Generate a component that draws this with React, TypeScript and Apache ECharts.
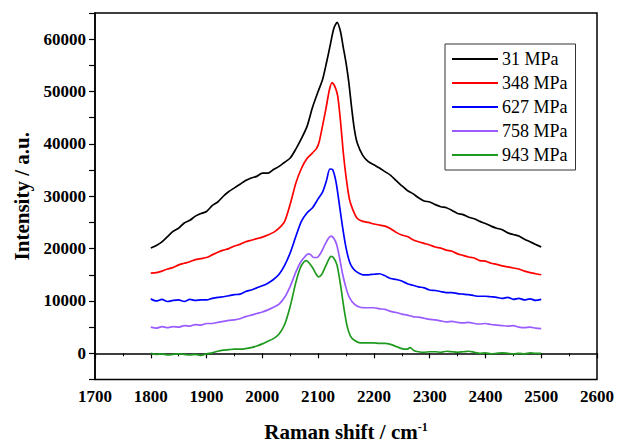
import React, { useEffect, useRef } from "react";
import * as echarts from "echarts";

const seriesNames = ["31 MPa", "348 MPa", "627 MPa", "758 MPa", "943 MPa"];
const seriesColors = ["#000000", "#ff0000", "#0000ff", "#9a5cff", "#1f9a1f"];
const xTicks = [1700, 1800, 1900, 2000, 2100, 2200, 2300, 2400, 2500, 2600];
const yTicks = [0, 10000, 20000, 30000, 40000, 50000, 60000];

const black: [number, number][] = [
  [1800, 20100], [1810, 20600], [1820, 21300], [1830, 22300], [1840, 23300], [1850, 23900],
  [1860, 24900], [1870, 25400], [1880, 26200], [1890, 26700], [1900, 27100], [1910, 28200],
  [1920, 28900], [1930, 30000], [1940, 30900], [1950, 31600], [1960, 32300], [1970, 33000],
  [1980, 33500], [1990, 33800], [2000, 34400], [2010, 34400], [2020, 35100], [2030, 35700],
  [2040, 36500], [2050, 37300], [2060, 39000], [2070, 41000], [2080, 43300], [2090, 47000],
  [2100, 50000], [2108, 52300], [2115, 55500], [2122, 59000], [2128, 62000], [2134, 63200],
  [2140, 61500], [2145, 58500], [2150, 55500], [2155, 51800], [2160, 47000], [2165, 42800],
  [2170, 40200], [2180, 37800], [2190, 36600], [2200, 36000], [2210, 35400], [2220, 34700],
  [2230, 34000], [2240, 33000], [2250, 32000], [2260, 31100], [2270, 30500], [2280, 29700],
  [2290, 29100], [2300, 28900], [2310, 28400], [2320, 28000], [2330, 27800], [2340, 27300],
  [2350, 26700], [2360, 26500], [2370, 26000], [2380, 25700], [2390, 25200], [2400, 24800],
  [2410, 24300], [2420, 23900], [2430, 23600], [2440, 23000], [2450, 22700], [2460, 22400],
  [2470, 21800], [2480, 21300], [2490, 20800], [2500, 20300],
];

const red: [number, number][] = [
  [1800, 15300], [1810, 15400], [1820, 15700], [1830, 16100], [1840, 16400], [1850, 16900],
  [1860, 17200], [1870, 17500], [1880, 17900], [1890, 18100], [1900, 18300], [1910, 18800],
  [1920, 19300], [1930, 19700], [1940, 20000], [1950, 20500], [1960, 20800], [1970, 21300],
  [1980, 21600], [1990, 21900], [2000, 22200], [2010, 22600], [2020, 23100], [2030, 23900],
  [2040, 25200], [2050, 28500], [2060, 32500], [2070, 35300], [2080, 37200], [2090, 38300],
  [2097, 39100], [2102, 40400], [2108, 43500], [2114, 46700], [2120, 50200], [2125, 51700],
  [2130, 51000], [2135, 49200], [2140, 44500], [2145, 38500], [2150, 33800], [2156, 29500],
  [2162, 27500], [2170, 25800], [2180, 25200], [2190, 25000], [2200, 24700], [2210, 24500],
  [2220, 24300], [2230, 23800], [2240, 23100], [2250, 22600], [2260, 22300], [2270, 21700],
  [2280, 21300], [2290, 21000], [2300, 20700], [2310, 20300], [2320, 20100], [2330, 19700],
  [2340, 19500], [2350, 19000], [2360, 18700], [2370, 18400], [2380, 18200], [2390, 17700],
  [2400, 17600], [2410, 17200], [2420, 17000], [2430, 16700], [2440, 16500], [2450, 16300],
  [2460, 16100], [2470, 15700], [2480, 15400], [2490, 15200], [2500, 15000],
];

const blue: [number, number][] = [
  [1800, 10400], [1810, 10000], [1820, 10300], [1830, 9900], [1840, 10100], [1850, 10200],
  [1860, 9900], [1870, 10300], [1880, 10100], [1890, 10200], [1900, 10200], [1910, 10500],
  [1920, 10700], [1930, 10800], [1940, 11000], [1950, 11200], [1960, 11300], [1970, 11800],
  [1980, 12100], [1990, 12500], [2000, 12900], [2010, 13400], [2020, 14100], [2030, 15100],
  [2040, 16800], [2050, 19200], [2060, 22300], [2070, 25200], [2080, 26800], [2090, 27800],
  [2100, 29500], [2108, 30800], [2115, 33000], [2121, 35200], [2126, 35100], [2132, 32800],
  [2138, 28500], [2144, 24000], [2150, 20200], [2156, 17600], [2162, 16300], [2170, 15500],
  [2180, 15000], [2190, 15000], [2200, 15100], [2210, 15200], [2220, 14800], [2230, 14300],
  [2240, 14100], [2250, 13800], [2260, 13300], [2270, 13000], [2280, 12700], [2290, 12500],
  [2300, 12100], [2310, 12000], [2320, 11800], [2330, 11600], [2340, 11600], [2350, 11400],
  [2360, 11300], [2370, 11200], [2380, 11000], [2390, 10900], [2400, 10900], [2410, 10800],
  [2420, 10700], [2430, 10500], [2440, 10700], [2450, 10300], [2460, 10500], [2470, 10200],
  [2480, 10400], [2490, 10100], [2500, 10300],
];

const purple: [number, number][] = [
  [1800, 5000], [1810, 4800], [1820, 5100], [1830, 4900], [1840, 5100], [1850, 5000],
  [1860, 5300], [1870, 5200], [1880, 5500], [1890, 5400], [1900, 5700], [1910, 5700],
  [1920, 5900], [1930, 6100], [1940, 6300], [1950, 6400], [1960, 6600], [1970, 7000],
  [1980, 7300], [1990, 7600], [2000, 7900], [2010, 8300], [2020, 8800], [2030, 9400],
  [2040, 10700], [2050, 12800], [2060, 15500], [2068, 17300], [2075, 18300], [2082, 19000],
  [2086, 18900], [2092, 18300], [2098, 18300], [2105, 19200], [2112, 20700], [2118, 21900],
  [2123, 22400], [2128, 22000], [2133, 20900], [2138, 18500], [2144, 15100], [2150, 12500],
  [2156, 10700], [2165, 9400], [2175, 8800], [2190, 8700], [2200, 8700], [2210, 8500],
  [2220, 8400], [2230, 8000], [2240, 7800], [2250, 7500], [2260, 7300], [2270, 7000],
  [2280, 6900], [2290, 6700], [2300, 6500], [2310, 6400], [2320, 6200], [2330, 6000],
  [2340, 6100], [2350, 5900], [2360, 5800], [2370, 5900], [2380, 5700], [2390, 5600],
  [2400, 5700], [2410, 5500], [2420, 5400], [2430, 5300], [2440, 5200], [2450, 5300],
  [2460, 5000], [2470, 4900], [2480, 5000], [2490, 4800], [2500, 4700],
];

const green: [number, number][] = [
  [1800, 0], [1810, -200], [1820, -100], [1830, -300], [1840, -200], [1850, -100],
  [1860, -200], [1870, -300], [1880, -200], [1890, -400], [1900, -100], [1910, 100],
  [1920, 400], [1930, 600], [1940, 700], [1950, 800], [1960, 800], [1970, 900],
  [1980, 1100], [1990, 1400], [2000, 1800], [2010, 2300], [2020, 2800], [2030, 3700],
  [2040, 5500], [2050, 9000], [2060, 13500], [2068, 16300], [2074, 17400], [2079, 17700],
  [2085, 17100], [2091, 16200], [2096, 15200], [2101, 14600], [2106, 15000], [2112, 16300],
  [2118, 17700], [2123, 18500], [2128, 18200], [2134, 16800], [2140, 13200], [2146, 8800],
  [2152, 5200], [2158, 3300], [2165, 2500], [2175, 2000], [2190, 2000], [2200, 2000],
  [2210, 1900], [2220, 1900], [2230, 1700], [2240, 1300], [2250, 900], [2260, 800],
  [2265, 1100], [2272, 500], [2280, 300], [2290, 200], [2300, 300], [2310, 300],
  [2320, 200], [2330, 400], [2340, 300], [2350, 200], [2360, 300], [2370, 400],
  [2380, 200], [2390, 0], [2400, 100], [2410, -100], [2420, 0], [2430, 100],
  [2440, 0], [2450, -100], [2460, 0], [2470, -100], [2480, 100], [2490, 0], [2500, 0],
];

const allData = [black, red, blue, purple, green];

const FONT = "Liberation Serif";

export default function App() {
  const ref = useRef<HTMLDivElement>(null);
  useEffect(() => {
    if (!ref.current) return;
    const chart = echarts.init(ref.current, undefined, { renderer: "svg" });
    chart.setOption({
      animation: false,
      backgroundColor: "#ffffff",
      textStyle: { fontFamily: FONT },
      grid: {
        left: 95,
        top: 13,
        right: 19,
        bottom: 64,
        show: true,
        borderColor: "#000",
        borderWidth: 1.5,
        backgroundColor: "transparent",
      },
      legend: {
        orient: "vertical",
        left: 445,
        top: 44,
        width: 134,
        data: seriesNames,
        icon: "rect",
        itemWidth: 46,
        itemHeight: 2,
        itemGap: 6,
        padding: [6, 8, 6, 7],
        borderColor: "#333",
        borderWidth: 1,
        textStyle: { fontFamily: FONT, fontSize: 18, color: "#000", padding: [0, 0, 0, -1] },
      },
      xAxis: {
        type: "value",
        min: xTicks[0],
        max: xTicks[xTicks.length - 1],
        interval: 100,
        name: "Raman shift / cm{sup|-1}",
        nameLocation: "middle",
        nameGap: 41,
        nameTextStyle: {
          fontFamily: FONT,
          fontWeight: "bold",
          fontSize: 21,
          color: "#000",
          rich: {
            sup: { fontFamily: FONT, fontWeight: "bold", fontSize: 12, color: "#000", verticalAlign: "top", padding: [0, 0, 10, 0] },
          },
        },
        axisLine: { lineStyle: { color: "#000", width: 1.5 } },
        axisTick: { show: true, inside: false, length: 5, lineStyle: { color: "#000", width: 1.2 } },
        minorTick: { show: true, splitNumber: 2, length: 3, lineStyle: { color: "#000", width: 1 } },
        splitLine: { show: false },
        axisLabel: {
          margin: 8,
          fontFamily: FONT,
          fontWeight: "bold",
          fontSize: 17,
          color: "#000",
          formatter: (v: number) => (xTicks.includes(v) ? String(v) : ""),
        },
      },
      yAxis: {
        type: "value",
        min: -5000,
        max: 65000,
        interval: 5000,
        name: "Intensity / a.u.",
        nameLocation: "middle",
        nameGap: 63,
        nameTextStyle: { fontFamily: FONT, fontWeight: "bold", fontSize: 21, color: "#000" },
        axisLine: { lineStyle: { color: "#000", width: 1.5 } },
        axisTick: { show: true, inside: false, length: 6, lineStyle: { color: "#000", width: 1.2 } },
        splitLine: { show: false },
        axisLabel: {
          margin: 9,
          fontFamily: FONT,
          fontWeight: "bold",
          fontSize: 17,
          color: "#000",
          formatter: (v: number) => (yTicks.includes(v) ? String(v) : ""),
        },
      },
      series: allData.map((d, i) => ({
        name: seriesNames[i],
        type: "line",
        data: d,
        showSymbol: false,
        symbol: "none",
        smooth: 0.25,
        lineStyle: { color: seriesColors[i], width: 1.7 },
        itemStyle: { color: seriesColors[i] },
      })),
    });
    return () => chart.dispose();
  }, []);
  return <div ref={ref} style={{ width: 617, height: 447, position: "absolute", left: 0, top: 0 }} />;
}
